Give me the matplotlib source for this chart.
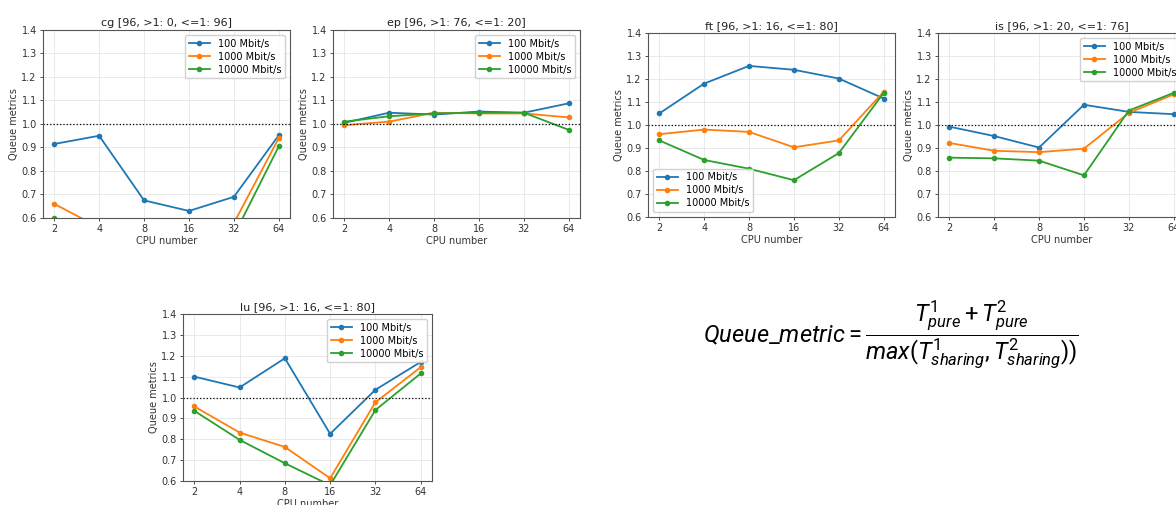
import matplotlib
matplotlib.use("Agg")
import matplotlib.pyplot as plt

W, H = 1176, 505
cpus = ["2", "4", "8", "16", "32", "64"]
series_names = ["100 Mbit/s", "1000 Mbit/s", "10000 Mbit/s"]
colors = ["#1f77b4", "#ff7f0e", "#2ca02c"]

cg_100 = [0.915, 0.950, 0.675, 0.630, 0.690, 0.952]
cg_1000 = [0.660, 0.560, 0.500, 0.480, 0.578, 0.940]
cg_10000 = [0.599, 0.500, 0.450, 0.430, 0.525, 0.905]

ep_100 = [1.005, 1.048, 1.040, 1.053, 1.048, 1.088]
ep_1000 = [0.995, 1.010, 1.048, 1.045, 1.045, 1.028]
ep_10000 = [1.010, 1.033, 1.045, 1.048, 1.048, 0.975]

ft_100 = [1.050, 1.180, 1.257, 1.240, 1.202, 1.115]
ft_1000 = [0.960, 0.980, 0.970, 0.903, 0.933, 1.145]
ft_10000 = [0.933, 0.848, 0.810, 0.760, 0.878, 1.140]

is_100 = [0.993, 0.952, 0.902, 1.088, 1.057, 1.047]
is_1000 = [0.922, 0.888, 0.882, 0.897, 1.053, 1.133]
is_10000 = [0.858, 0.855, 0.845, 0.781, 1.063, 1.140]

lu_100 = [1.100, 1.048, 1.188, 0.826, 1.037, 1.170]
lu_1000 = [0.957, 0.832, 0.763, 0.613, 0.977, 1.145]
lu_10000 = [0.936, 0.797, 0.685, 0.580, 0.940, 1.115]

panels = [
    ("cg [96, >1: 0, <=1: 96]", [cg_100, cg_1000, cg_10000], (43, 30, 290, 218), "upper right"),
    ("ep [96, >1: 76, <=1: 20]", [ep_100, ep_1000, ep_10000], (333, 30, 580, 218), "upper right"),
    ("ft [96, >1: 16, <=1: 80]", [ft_100, ft_1000, ft_10000], (648, 33, 895, 217), "lower left"),
    ("is [96, >1: 20, <=1: 76]", [is_100, is_1000, is_10000], (938, 33, 1185, 217), "upper right"),
    ("lu [96, >1: 16, <=1: 80]", [lu_100, lu_1000, lu_10000], (183, 314, 432, 481), "upper right"),
]

plt.rcParams["mathtext.fontset"] = "custom"
plt.rcParams["mathtext.it"] = "Roboto:italic"
plt.rcParams["mathtext.rm"] = "Roboto"
plt.rcParams["mathtext.bf"] = "Roboto:bold"

fig = plt.figure(figsize=(W / 100, H / 100), dpi=100)

for title, data, (l, t, r, b), loc in panels:
    ax = fig.add_axes([l / W, 1 - b / H, (r - l) / W, (b - t) / H])
    xs = list(range(len(cpus)))
    for vals, name, c in zip(data, series_names, colors):
        ax.plot(xs, vals, marker="o", markersize=3, lw=1.3, color=c, label=name)
    ax.axhline(1.0, color="black", linestyle=":", lw=0.9)
    ax.set_ylim(0.6, 1.4)
    ax.set_yticks([0.6, 0.7, 0.8, 0.9, 1.0, 1.1, 1.2, 1.3, 1.4])
    ax.set_xticks(xs)
    ax.set_xticklabels(cpus)
    ax.tick_params(labelsize=7, length=2.5, width=0.6, colors="#333333", pad=2)
    ax.grid(True, color="#e6e6e6", lw=0.6)
    ax.set_axisbelow(True)
    for s in ax.spines.values():
        s.set_color("#555555")
        s.set_linewidth(0.8)
    ax.set_title(title, fontsize=8, color="#222222", pad=3)
    ax.set_xlabel("CPU number", fontsize=7, color="#333333", labelpad=1)
    ax.set_ylabel("Queue metrics", fontsize=7, color="#333333", labelpad=2)
    ax.legend(loc=loc, fontsize=7, handlelength=2.2, borderpad=0.4, labelspacing=0.3,
              framealpha=0.9, edgecolor="#cccccc")

fig.text(703 / W, 1 - 335 / H,
         r"$Queue\_metric = \dfrac{T^1_{pure} + T^2_{pure}}{max(T^1_{sharing}, T^2_{sharing}))}$",
         fontsize=17, ha="left", va="center", color="black")

fig.savefig("out.png", dpi=100)
